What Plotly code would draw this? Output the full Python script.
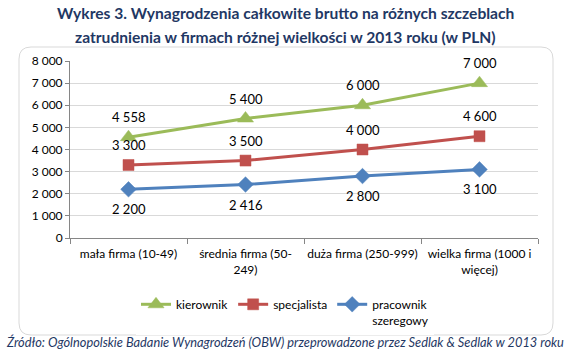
import plotly.graph_objects as go

categories = ["mała firma (10-49)", "średnia firma (50-<br>249)", "duża firma (250-999)", "wielka firma (1000 i<br>więcej)"]
kierownik = [4558, 5400, 6000, 7000]
specjalista = [3300, 3500, 4000, 4600]
pracownik = [2200, 2416, 2800, 3100]
y_ticks = [0, 1000, 2000, 3000, 4000, 5000, 6000, 7000, 8000]
title_lines = [
    "Wykres 3. Wynagrodzenia całkowite brutto na różnych szczeblach",
    "zatrudnienia w firmach różnej wielkości w 2013 roku (w PLN)",
]
source = "Źródło: Ogólnopolskie Badanie Wynagrodzeń (OBW) przeprowadzone przez Sedlak &amp; Sedlak w 2013 roku"

series = [
    ("kierownik", kierownik, "#9BBB59", "triangle-up", 14, 20),
    ("specjalista", specjalista, "#C0504D", "square", 11, 20),
    ("pracownik<br>szeregowy", pracownik, "#4F81BD", "diamond", 12, -20),
]

FONT = "Lato"
W, H = 468.0, 177.0
L, B = 70.0, 238.0


def px(x):
    return (x - L) / W


def py(y):
    return (B - y) / H


fig = go.Figure()
annotations = []
for name, vals, color, sym, size, shift in series:
    fig.add_trace(go.Scatter(
        x=categories, y=vals, name=name, mode="lines+markers",
        line=dict(color=color, width=3),
        marker=dict(symbol=sym, size=size, color=color, line=dict(color=color, width=0.5)),
    ))
    for c, v in zip(categories, vals):
        annotations.append(dict(
            x=c, y=v, xref="x", yref="y", text=f"{v:,}".replace(",", " "),
            showarrow=False, yshift=shift, font=dict(family=FONT, size=13, color="#000000"),
        ))

# border (rounded rectangle) in paper coords
x0, x1 = px(19), px(553)
y1, y0 = py(47), py(335)
rx, ry = 12 / W, 12 / H
path = (f"M {x0+rx},{y1} L {x1-rx},{y1} Q {x1},{y1} {x1},{y1-ry} "
        f"L {x1},{y0+ry} Q {x1},{y0} {x1-rx},{y0} L {x0+rx},{y0} "
        f"Q {x0},{y0} {x0},{y0+ry} L {x0},{y1-ry} Q {x0},{y1} {x0+rx},{y1} Z")

for line, ypix in zip(title_lines, [13, 37]):
    annotations.append(dict(
        x=px(285), y=py(ypix), xref="paper", yref="paper",
        text=f"<b>{line}</b>",
        showarrow=False, xanchor="center", yanchor="middle",
        font=dict(family=FONT, size=15.6, color="#1F3864"),
    ))
annotations.append(dict(
    x=px(285), y=py(342), xref="paper", yref="paper",
    text=f"<i>{source}</i>",
    showarrow=False, xanchor="center", yanchor="middle",
    font=dict(family=FONT, size=12.8, color="#1F3864"),
))

fig.update_layout(
    width=570, height=353,
    margin=dict(l=70, r=32, t=61, b=115, autoexpand=False),
    paper_bgcolor="white", plot_bgcolor="white",
    separators=", ",
    font=dict(family=FONT, size=12, color="#000000"),
    showlegend=True,
    legend=dict(orientation="h", x=0.5, xanchor="center", xref="container",
                y=1 - 290 / 353, yanchor="top", yref="container",
                font=dict(family=FONT, size=12, color="#000000"),
                valign="top", traceorder="normal", itemwidth=30),
    annotations=annotations,
    shapes=[dict(type="path", path=path, xref="paper", yref="paper",
                 line=dict(color="#D9D9D9", width=1), layer="below")],
)
fig.update_xaxes(
    type="category", tickson="boundaries", ticks="outside", ticklen=5,
    tickcolor="#868686", showline=True, linecolor="#868686", linewidth=1,
    showgrid=False, tickfont=dict(family=FONT, size=12, color="#000000"),
    ticklabelstandoff=5, tickangle=0, automargin=False,
    range=[-0.5, 3.5],
)
fig.update_yaxes(
    range=[0, 8000], tickvals=y_ticks, tickformat=",d", ticks="outside", ticklen=4,
    tickcolor="#868686", showline=True, linecolor="#868686", linewidth=1,
    showgrid=True, gridcolor="#D9D9D9", zeroline=False, automargin=False,
    tickfont=dict(family=FONT, size=12, color="#000000"),
)
fig.write_html("out.html")
